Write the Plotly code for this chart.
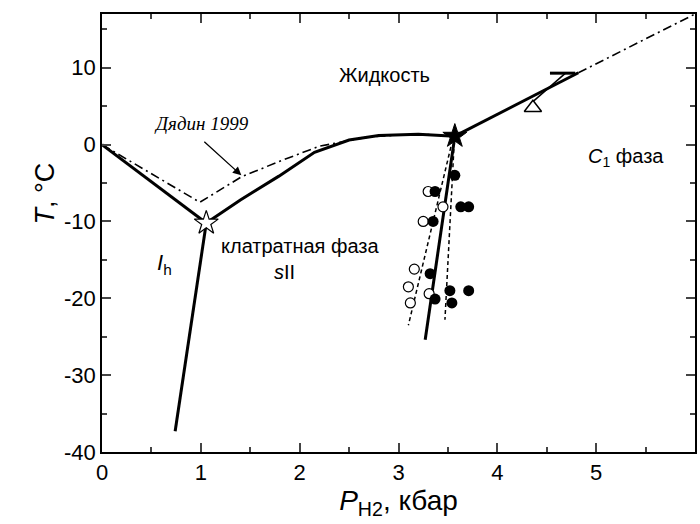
import plotly.graph_objects as go

# ---- data (P in kbar, T in degC) ----
ice_melt_p = [0.0, 1.055]
ice_melt_t = [0.0, -10.2]

ih_sii_p = [1.055, 0.74]
ih_sii_t = [-10.2, -37.3]

sii_liq_p = [1.055, 1.4, 1.79, 2.15, 2.5, 2.8, 3.2, 3.57]
sii_liq_t = [-10.2, -7.2, -4.1, -1.0, 0.6, 1.2, 1.35, 1.1]

dyadin_p = [0.0, 0.99, 1.41, 1.79, 2.2, 2.7, 3.2, 3.57]
dyadin_t = [0.0, -7.5, -4.2, -2.2, -0.2, 1.0, 1.4, 1.1]

c1_liq_p = [3.57, 4.82]
c1_liq_t = [1.1, 9.35]
c1_ext_p = [4.82, 6.0]
c1_ext_t = [9.35, 17.0]

sii_c1_p = [3.57, 3.27]
sii_c1_t = [1.1, -25.4]

dash_left_p = [3.53, 3.10]
dash_left_t = [-0.3, -23.5]
dash_right_p = [3.56, 3.47]
dash_right_t = [-0.6, -22.8]

open_p = [3.30, 3.45, 3.25, 3.16, 3.10, 3.12, 3.31]
open_t = [-6.1, -8.1, -10.0, -16.2, -18.5, -20.6, -19.4]

fill_p = [3.57, 3.37, 3.63, 3.71, 3.35, 3.32, 3.37, 3.52, 3.71, 3.54]
fill_t = [-4.0, -6.1, -8.1, -8.1, -10.0, -16.8, -20.1, -19.0, -19.0, -20.6]

tri_p = [4.36]
tri_t = [4.8]

bar_p = [4.66]
bar_t = [9.3]
stem_p = [4.36, 4.57, 4.69]
stem_t = [5.6, 8.0, 9.3]

star_open_p = [1.055]
star_open_t = [-10.2]
star_fill_p = [3.57]
star_fill_t = [1.1]

x_ticks = [0, 1, 2, 3, 4, 5, 6]
x_ticktext = ["0", "1", "2", "3", "4", "5", "6"]
y_ticks = [-40, -30, -20, -10, 0, 10]
y_ticktext = ["-40", "-30", "-20", "-10", "0", "10"]

fig = go.Figure()

def line(xs, ys, width, dash="solid"):
    fig.add_trace(go.Scatter(x=xs, y=ys, mode="lines",
                             line=dict(color="black", width=width, dash=dash),
                             hoverinfo="skip"))

DASHDOT = "9px,4px,2px,4px"
line(dyadin_p, dyadin_t, 1.6, DASHDOT)
line(c1_ext_p, c1_ext_t, 1.6, DASHDOT)
line(ice_melt_p, ice_melt_t, 3)
line(ih_sii_p, ih_sii_t, 3)
line(sii_liq_p, sii_liq_t, 3)
line(c1_liq_p, c1_liq_t, 3)
line(sii_c1_p, sii_c1_t, 3)
line(dash_left_p, dash_left_t, 1.5, "4px,3px")
line(dash_right_p, dash_right_t, 1.5, "4px,3px")
line(stem_p, stem_t, 1.5)

fig.add_trace(go.Scatter(x=open_p, y=open_t, mode="markers",
                         marker=dict(symbol="circle", size=10, color="white",
                                     line=dict(color="black", width=1.2))))
fig.add_trace(go.Scatter(x=fill_p, y=fill_t, mode="markers",
                         marker=dict(symbol="circle", size=11, color="black")))
fig.add_trace(go.Scatter(x=tri_p, y=tri_t, mode="markers",
                         marker=dict(symbol="triangle-up", size=15, color="white",
                                     line=dict(color="black", width=1.5))))
fig.add_trace(go.Scatter(x=bar_p, y=bar_t, mode="markers",
                         marker=dict(symbol="line-ew", size=18,
                                     line=dict(color="black", width=3))))
fig.add_trace(go.Scatter(x=star_open_p, y=star_open_t, mode="markers",
                         marker=dict(symbol="star", size=18, color="white",
                                     line=dict(color="black", width=1.2))))
fig.add_trace(go.Scatter(x=star_fill_p, y=star_fill_t, mode="markers",
                         marker=dict(symbol="star", size=18, color="black",
                                     line=dict(color="black", width=1))))

FONT = "Liberation Sans, Arial, sans-serif"
def text(x, y, s, size, xanchor="center", family=FONT):
    fig.add_annotation(x=x, y=y, text=s, showarrow=False, xanchor=xanchor,
                       yanchor="middle", font=dict(family=family, size=size, color="black"))

text(2.86, 9.0, "Жидкость", 20)
text(1.01, 2.7, "<i>Дядин 1999</i>", 19, family="Liberation Serif, Times New Roman, serif")
text(0.63, -15.5, "<i>I</i><sub>h</sub>", 22)
text(1.18, -13.2, "клатратная фаза", 20, xanchor="left")
text(1.85, -16.6, "<i>s</i>II", 20)
text(5.3, -1.7, "<i>C</i><sub>1</sub> фаза", 20)

fig.add_annotation(x=1.41, y=-4.0, ax=1.02, ay=0.56, axref="x", ayref="y",
                   xref="x", yref="y", showarrow=True, arrowhead=2,
                   arrowsize=1.3, arrowwidth=1.3, arrowcolor="black", text="")

fig.add_annotation(xref="paper", yref="paper", x=-0.125, y=0.59, text="<i>T</i>, °C",
                   showarrow=False, textangle=-90,
                   font=dict(family=FONT, size=27, color="black"))

fig.update_layout(
    width=700, height=524,
    margin=dict(l=102, r=3, t=14, b=72),
    paper_bgcolor="white", plot_bgcolor="white",
    showlegend=False,
    font=dict(family=FONT, color="black"),
)
fig.update_xaxes(range=[0, 6], tickvals=x_ticks, ticktext=x_ticktext, ticks="inside",
                 ticklen=9, tickwidth=1.5,
                 showline=True, linecolor="black", linewidth=1.5, mirror="allticks",
                 showgrid=False, zeroline=False, tickfont=dict(size=22),
                 minor=dict(ticks="inside", ticklen=5, tickwidth=1.5, dtick=0.5, showgrid=False),
                 title=dict(text="<i>P</i><sub>H2</sub>, кбар", font=dict(size=28), standoff=2))
fig.update_yaxes(range=[-40, 17], tickvals=y_ticks, ticktext=y_ticktext, ticks="inside",
                 ticklen=9, tickwidth=1.5,
                 showline=True, linecolor="black", linewidth=1.5, mirror="allticks",
                 showgrid=False, zeroline=False, tickfont=dict(size=22),
                 minor=dict(ticks="inside", ticklen=5, tickwidth=1.5, dtick=5, showgrid=False))

fig.write_html("out.html")
